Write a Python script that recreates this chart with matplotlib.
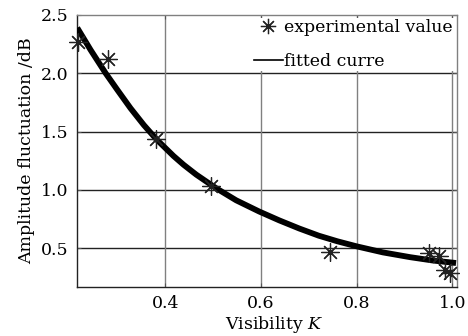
import matplotlib
matplotlib.use("Agg")
import matplotlib.pyplot as plt
from matplotlib.lines import Line2D

plt.rcParams["font.family"] = "DejaVu Serif"
plt.rcParams["mathtext.fontset"] = "dejavuserif"

# measured points
k_meas = [0.217, 0.28, 0.381, 0.496, 0.745, 0.952, 0.972, 0.984, 0.996]
amp_meas = [2.27, 2.12, 1.44, 1.03, 0.47, 0.455, 0.435, 0.315, 0.29]

# fitted curve
k_fit = [0.2155, 0.2435, 0.275, 0.299, 0.327, 0.355, 0.382, 0.417, 0.438,
         0.4646, 0.506, 0.548, 0.596, 0.638, 0.680, 0.721, 0.76, 0.80, 0.855,
         0.912, 0.960, 1.008]
amp_fit = [2.39, 2.20, 2.00, 1.86, 1.70, 1.555, 1.43, 1.29, 1.215,
           1.13, 1.014, 0.91, 0.814, 0.738, 0.668, 0.606, 0.558, 0.515, 0.463,
           0.422, 0.393, 0.372]

fig = plt.figure(figsize=(4.68, 3.36), dpi=100)
ax = fig.add_axes([0.1645, 0.1458, 0.812, 0.8096])

ax.plot(k_fit, amp_fit, color="black", lw=4.2, solid_capstyle="butt",
        solid_joinstyle="round", zorder=3)
ax.plot(k_meas, amp_meas, ls="none", marker=(8, 2, 0), ms=13, mew=0.9,
        color="#222222", clip_on=False, zorder=4)

ax.set_xlim(0.215, 1.01)
ax.set_ylim(0.166, 2.5)
ax.set_xticks([0.4, 0.6, 0.8, 1.0])
ax.set_yticks([0.5, 1.0, 1.5, 2.0, 2.5])
ax.set_xticklabels(["0.4", "0.6", "0.8", "1.0"])
ax.set_yticklabels(["0.5", "1.0", "1.5", "2.0", "2.5"])

for y in [0.5, 1.0, 1.5, 2.0]:
    ax.axhline(y, color="#222222", lw=1.0, zorder=1)
for x in [0.4, 0.6, 0.8, 1.0]:
    ax.axvline(x, color="#808080", lw=1.0, zorder=1)

ax.tick_params(direction="in", length=3, labelsize=12.5, top=True, right=True,
               color="#555555", pad=6)
for side in ["left", "bottom"]:
    ax.spines[side].set_color("#222222")
for side in ["top", "right"]:
    ax.spines[side].set_color("#808080")
for s in ax.spines.values():
    s.set_linewidth(1.0)

ax.set_xlabel("Visibility $K$", fontsize=12.5)
ax.xaxis.set_label_coords(0.52, -0.1)
ax.set_ylabel("Amplitude fluctuation /dB", fontsize=12.5, labelpad=4)

handles = [Line2D([], [], ls="none", marker=(8, 2, 0), ms=11, mew=0.9, color="#222222"),
           Line2D([], [], color="black", lw=1.2)]
leg = ax.legend(handles, ["experimental value", "fitted curre"], loc="upper right",
                fontsize=12.5, frameon=True, framealpha=1, edgecolor="none",
                fancybox=False, handlelength=1.7, handletextpad=0.05,
                labelspacing=0.95, borderpad=0.05, borderaxespad=0.2)
leg.set_zorder(5)

fig.savefig("out.png", dpi=100)
